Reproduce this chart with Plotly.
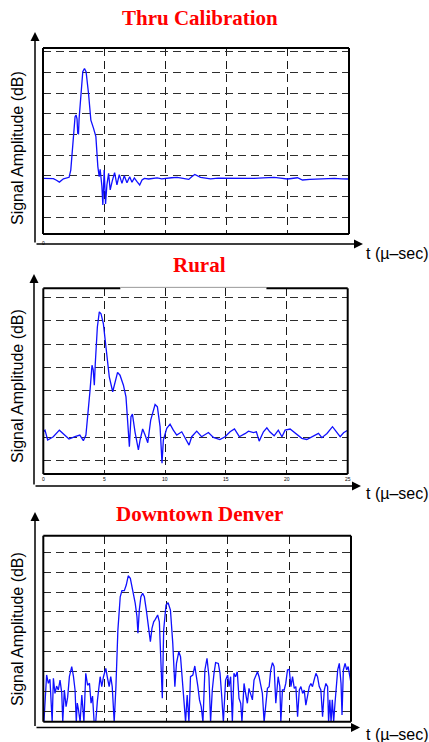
import plotly.graph_objects as go

# ---- Thru Calibration: time (µs) vs relative amplitude (grid units) ----
t_thru = [0, 0.4, 0.85, 1.1, 1.34, 1.67, 2.0, 2.13, 2.27, 2.4, 2.49, 2.62, 2.7, 2.78,
          2.84, 2.9, 2.95, 3.11, 3.25, 3.39, 3.52, 3.72, 3.91, 4.13, 4.32, 4.48,
          4.59, 4.67, 4.74, 4.81, 4.89, 5.0, 5.11, 5.22, 5.36, 5.49, 5.66, 5.85,
          6.04, 6.23, 6.45, 6.64, 6.86, 7.08, 7.27, 7.46, 7.68, 7.9, 8.09, 8.28,
          8.63, 9.0, 9.32, 9.7, 10.14, 10.5, 10.96, 11.4, 11.91, 12.15, 12.4, 12.87,
          13.3, 13.69, 14.3, 15.05, 15.6, 16.15, 16.7, 17.24, 18.0, 18.88, 19.4,
          19.97, 20.79, 21.2, 21.8, 22.43, 23.1, 23.8, 24.4, 25.0]
a_thru = [2.87, 2.88, 2.86, 2.78, 2.69, 2.85, 2.9, 2.92, 3.27, 4.4, 5.05, 5.85, 5.94, 5.75,
          5.05, 5.03, 5.77, 6.98, 8.03, 8.19, 8.03, 6.98, 5.69, 5.29, 4.89, 3.44,
          2.95, 3.31, 2.9, 2.5, 1.58, 3.27, 1.63, 2.55, 3.11, 2.31, 2.75, 3.15,
          2.55, 3.05, 2.63, 3.0, 2.66, 2.95, 2.68, 2.89, 2.71, 2.55, 2.79, 2.87,
          2.84, 2.88, 2.89, 2.85, 2.86, 2.9, 2.92, 2.87, 2.82, 2.95, 3.06, 2.92,
          2.87, 2.85, 2.88, 2.87, 2.86, 2.85, 2.87, 2.87, 2.89, 2.92, 2.88,
          2.84, 2.9, 2.79, 2.82, 2.84, 2.86, 2.87, 2.85, 2.84]

# ---- Rural ----
t_rural = [0, 0.14, 0.36, 0.82, 1.32, 1.64, 2.11, 2.6, 3.0, 3.29, 3.5, 3.84, 4.0, 4.1,
           4.19, 4.27, 4.44, 4.6, 4.74, 4.93, 5.15, 5.42, 5.7, 5.89, 6.1, 6.3, 6.58,
           6.79, 7.07, 7.2, 7.32, 7.53, 7.81, 7.95, 8.16, 8.36, 8.58, 8.82, 9.18,
           9.37, 9.59, 9.75, 9.86, 10.14, 10.41, 10.68, 10.96, 11.37, 11.64, 11.97,
           12.19, 12.6, 13.0, 13.56, 13.97, 14.5, 14.93, 15.34, 15.7, 16.1, 16.6,
           16.85, 17.26, 17.5, 17.73, 18.08, 18.36, 18.6, 18.96, 19.3, 19.6, 19.86,
           20.27, 20.7, 21.23, 21.64, 22.19, 22.6, 22.88, 23.3, 23.75, 24.1, 24.38,
           24.66, 25.0]
a_rural = [2.24, 2.31, 1.89, 2.03, 2.31, 2.17, 1.93, 2.03, 2.1, 1.86, 2.1, 4.03, 5.1, 4.9,
           4.24, 5.17, 6.74, 7.39, 7.31, 6.89, 5.89, 4.6, 3.96, 4.39, 4.79, 4.67, 4.24,
           3.74, 1.6, 2.89, 3.0, 2.24, 1.46, 1.89, 2.36, 2.1, 1.77, 2.74, 3.41,
           3.31, 2.46, 0.89, 1.89, 2.39, 2.57, 2.31, 2.1, 2.24, 2.0, 1.67,
           2.03, 2.27, 2.03, 2.21, 2.0, 1.91, 2.03, 2.24, 2.36, 2.03, 2.17,
           2.27, 2.21, 2.24, 1.84, 2.24, 2.41, 2.24, 2.07, 2.31, 2.03, 2.31,
           2.36, 2.17, 1.96, 1.91, 2.07, 2.17, 1.99, 2.17, 2.46, 2.21, 2.03,
           2.2, 2.31]

# ---- Downtown Denver ----
t_denver = [0, 0.05, 0.27, 0.41, 0.54, 0.64, 0.72, 0.82, 0.95, 1.08, 1.22, 1.36, 1.5,
            1.58, 1.71, 1.85, 1.98, 2.12, 2.31, 2.45, 2.58, 2.68, 2.76, 2.85, 2.99,
            3.13, 3.22, 3.3, 3.45, 3.6, 3.75, 3.88, 4.0, 4.13, 4.26, 4.4, 4.62,
            4.75, 4.89, 5.08, 5.22, 5.35, 5.48, 5.6, 5.76, 5.9, 6.06, 6.25, 6.39,
            6.58, 6.74, 6.9, 7.07, 7.28, 7.47, 7.61, 7.69, 7.8, 7.93, 8.07, 8.21,
            8.37, 8.56, 8.7, 8.83, 8.97, 9.1, 9.29, 9.43, 9.57, 9.67, 9.78, 9.97,
            10.14, 10.33, 10.52, 10.69, 10.82, 11.01, 11.15, 11.28, 11.42, 11.56,
            11.69, 11.83, 11.96, 12.15, 12.31, 12.45, 12.56, 12.69, 12.83, 12.97,
            13.13, 13.3, 13.46, 13.59, 13.73, 13.87, 14.0, 14.22, 14.36, 14.49,
            14.63, 14.81, 14.98, 15.09, 15.22, 15.36, 15.49, 15.62, 15.76, 15.9,
            16.04, 16.14, 16.31, 16.44, 16.58, 16.71, 16.85, 16.99, 17.12, 17.26,
            17.4, 17.53, 17.67, 17.8, 17.94, 18.07, 18.21, 18.35, 18.48, 18.62,
            18.75, 18.89, 19.08, 19.22, 19.3, 19.43, 19.57, 19.7, 19.84, 19.98,
            20.12, 20.25, 20.39, 20.52, 20.66, 20.8, 20.93, 21.07, 21.2, 21.33,
            21.47, 21.61, 21.74, 21.87, 22.0, 22.15, 22.28, 22.42, 22.55, 22.69,
            22.83, 22.96, 23.1, 23.18, 23.28, 23.38, 23.48, 23.59, 23.7, 23.84,
            23.92, 24.05, 24.19, 24.27, 24.38, 24.52, 24.65, 24.77, 24.89, 25.0]
a_denver = [0.45, 0.45, 2.82, 2.4, 2.6, 1.6, 0.45, 2.65, 1.89, 2.26, 2.06, 2.56, 1.9,
            0.45, 2.06, 1.22, 1.7, 2.73, 3.24, 2.75, 2.06, 0.45, 1.4, 1.1, 0.45,
            1.81, 0.8, 0.45, 2.9, 2.3, 2.4, 1.4, 1.75, 0.45, 0.45, 1.55, 2.73,
            2.23, 2.73, 3.15, 2.65, 2.23, 2.73, 2.23, 0.45, 2.23, 5.08, 6.76, 7.07,
            7.07, 7.35, 7.82, 7.69, 7.1, 6.43, 5.76, 4.92, 6.09, 6.76, 6.93, 6.76,
            6.09, 5.25, 4.5, 5.17, 5.5, 5.62, 5.84, 5.5, 3.57, 1.64, 5.08, 6.34,
            6.46, 6.09, 4.41, 2.23, 3.4, 3.99, 3.74, 2.73, 1.22, 0.45,
            1.81, 0.45, 2.73, 2.81, 3.27, 2.73, 2.23, 1.56, 1.22, 0.45,
            3.07, 3.66, 2.73, 0.45, 2.06, 2.9, 3.44, 3.4, 2.9, 1.81,
            0.45, 2.56, 2.81, 2.23, 2.73, 0.45, 2.9, 2.73, 2.98, 1.64,
            1.39, 0.45, 2.39, 1.89, 1.39, 2.14, 1.89, 1.56, 2.56, 2.73,
            2.98, 2.73, 2.23, 1.89, 0.45, 1.39, 2.14, 2.23, 3.07, 3.44,
            3.24, 1.39, 2.73, 2.23, 0.45, 2.06, 2.06, 2.39, 3.07, 3.1,
            2.23, 2.73, 2.14, 2.23, 0.71, 2.06, 2.23, 1.89, 2.06, 1.3,
            1.89, 2.23, 2.39, 2.23, 2.56, 2.9, 2.73, 2.23, 2.06, 0.71,
            2.06, 2.39, 2.23, 0.45, 1.56, 0.45, 1.56, 0.45, 1.39, 2.39,
            3.07, 3.4, 2.39, 0.8, 3.07, 3.4, 3.07, 3.24, 2.73, 2.39]

x_ticks = [0, 5, 10, 15, 20, 25]
x_tick_text = ["0", "5", "10", "15", "20", "25"]

titles = ["Thru Calibration", "Rural", "Downtown Denver"]
y_label = "Signal Amplitude (dB)"
x_label = "t (\u00b5\u2013sec)"

W, H = 429, 742


def px(x):
    return x / W


def py(y):
    return 1 - y / H


# panel geometry in pixels: box left, right, top, bottom; arrow x/y; title y; y range
panels = [
    dict(box=(43, 349, 48, 234), ax_x=35, ax_y=244, y_top=32, x_end=363,
         title_y=18, yr=[0.177, 9.18], grid=list(range(1, 10)), ylab_y=148, lab_y=253),
    dict(box=(43.3, 347.7, 288.3, 474), ax_x=34, ax_y=486, y_top=274, x_end=361,
         title_y=265, yr=[0.429, 8.40], grid=list(range(1, 9)), ylab_y=386, lab_y=494),
    dict(box=(43.3, 351, 535.7, 721.7), ax_x=35, ax_y=727.5, y_top=512, x_end=360,
         title_y=514, yr=[0.461, 9.84], grid=list(range(1, 10)), ylab_y=629, lab_y=734),
]

series = [(t_thru, a_thru), (t_rural, a_rural), (t_denver, a_denver)]

fig = go.Figure()
layout = dict(width=W, height=H, margin=dict(l=0, r=0, t=0, b=0),
              paper_bgcolor="white", plot_bgcolor="white", showlegend=False)
annotations = []
shapes = []

for i, (p, (tt, aa)) in enumerate(zip(panels, series)):
    n = "" if i == 0 else str(i + 1)
    xa, ya = "x" + n, "y" + n
    fig.add_trace(go.Scatter(x=tt, y=aa, mode="lines", xaxis=xa, yaxis=ya,
                             line=dict(color="#1010ff", width=1.3)))
    l, r, t, b = p["box"]
    grid_common = dict(showgrid=True, gridwidth=1.2, griddash="8px,5px",
                       zeroline=False, showline=False)
    layout["xaxis" + n] = dict(
        domain=[px(l), px(r)], range=[0, 25], anchor=ya, gridcolor="#1a1a1a",
        tickvals=[5, 10, 15, 20], showticklabels=False, ticks="", **grid_common)
    layout["yaxis" + n] = dict(
        domain=[py(b), py(t)], range=p["yr"], anchor=xa, gridcolor="#2e2e2e",
        tickvals=p["grid"], showticklabels=False, ticks="inside", ticklen=3,
        tickcolor="#222", **grid_common)

    # frame around the plotting area
    dom = dict(xref=xa + " domain", yref=ya + " domain", layer="above")
    line_k = dict(color="black", width=2)
    shapes.append(dict(type="line", x0=0, x1=0, y0=0, y1=1, line=line_k, **dom))
    shapes.append(dict(type="line", x0=1, x1=1, y0=0, y1=1, line=line_k, **dom))
    shapes.append(dict(type="line", x0=0, x1=1, y0=0, y1=0, line=line_k, **dom))
    if i == 1:
        # top edge partly thin where the heading overlaps it
        shapes.append(dict(type="line", x0=0, x1=0.253, y0=1, y1=1, line=line_k, **dom))
        shapes.append(dict(type="line", x0=0.253, x1=0.733, y0=1.005, y1=1.005,
                           line=dict(color="#9a9a9a", width=1), **dom))
        shapes.append(dict(type="line", x0=0.733, x1=1, y0=1, y1=1, line=line_k, **dom))
    else:
        shapes.append(dict(type="line", x0=0, x1=1, y0=1, y1=1, line=line_k, **dom))

    # axis arrows (tail offsets in pixels from the arrow head)
    annotations.append(dict(xref="paper", yref="paper", axref="pixel", ayref="pixel",
                            x=px(p["ax_x"]), y=py(p["y_top"]),
                            ax=0, ay=p["ax_y"] - p["y_top"],
                            text="", showarrow=True, arrowhead=2, arrowsize=1.2,
                            arrowwidth=1.5, arrowcolor="black"))
    annotations.append(dict(xref="paper", yref="paper", axref="pixel", ayref="pixel",
                            x=px(p["x_end"]), y=py(p["ax_y"]),
                            ax=-(p["x_end"] - p["ax_x"]), ay=0,
                            text="", showarrow=True, arrowhead=2, arrowsize=1.2,
                            arrowwidth=1.5, arrowcolor="black"))
    # headings and axis labels
    annotations.append(dict(xref="paper", yref="paper", x=px(199.5), y=py(p["title_y"]),
                            text="<b>" + titles[i] + "</b>", showarrow=False,
                            font=dict(family="Liberation Serif", size=21, color="#ff0000"),
                            xanchor="center", yanchor="middle"))
    annotations.append(dict(xref="paper", yref="paper", x=px(17), y=py(p["ylab_y"]),
                            text=y_label, textangle=-90, showarrow=False,
                            font=dict(family="Liberation Sans", size=16, color="black"),
                            xanchor="center", yanchor="middle"))
    annotations.append(dict(xref="paper", yref="paper", x=px(364), y=py(p["lab_y"]),
                            text=x_label, showarrow=False,
                            font=dict(family="Liberation Sans", size=16, color="black"),
                            xanchor="left", yanchor="middle"))

# tiny time tick labels
annotations.append(dict(xref="x", yref="paper", x=x_ticks[0], y=py(238),
                        text=x_tick_text[0], showarrow=False,
                        font=dict(family="Liberation Sans", size=5, color="black")))
for v, s in zip(x_ticks, x_tick_text):
    annotations.append(dict(xref="x2", yref="paper", x=v, y=py(478.5), text=s,
                            showarrow=False,
                            font=dict(family="Liberation Sans", size=5, color="black")))
layout["xaxis2"].update(ticks="inside", ticklen=3, tickcolor="#222")

layout["annotations"] = annotations
layout["shapes"] = shapes
fig.update_layout(**layout)
fig.write_html("out.html")
